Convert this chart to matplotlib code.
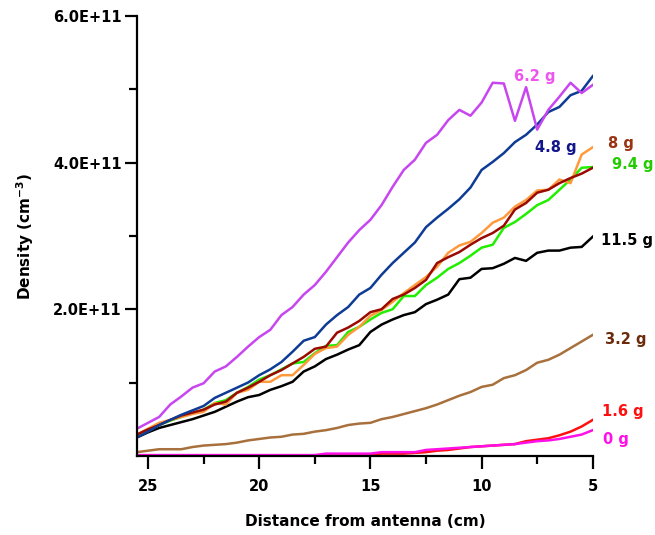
import numpy as np
import matplotlib.pyplot as plt
from matplotlib import ticker

# distancia desde la antena (cm)
distance = [25.5, 25, 24.5, 24, 23.5, 23, 22.5, 22, 21.5, 21, 20.5, 20, 19.5, 19,
            18.5, 18, 17.5, 17, 16.5, 16, 15.5, 15, 14.5, 14, 13.5, 13, 12.5, 12,
            11.5, 11, 10.5, 10, 9.5, 9, 8.5, 8, 7.5, 7, 6.5, 6, 5.5, 5]

# densidad en unidades de 1e11 cm^-3
d_6_2 = [0.37, 0.45, 0.53, 0.70, 0.81, 0.93, 0.99, 1.15, 1.22, 1.35, 1.49, 1.62, 1.72, 1.92,
         2.03, 2.20, 2.33, 2.51, 2.71, 2.91, 3.08, 3.22, 3.42, 3.67, 3.90, 4.04, 4.27, 4.38,
         4.58, 4.72, 4.64, 4.82, 5.09, 5.08, 4.57, 5.03, 4.45, 4.72, 4.90, 5.09, 4.95, 5.06]
d_4_8 = [0.25, 0.33, 0.42, 0.49, 0.56, 0.62, 0.68, 0.79, 0.86, 0.93, 1.00, 1.10, 1.18, 1.28,
         1.42, 1.57, 1.62, 1.79, 1.92, 2.03, 2.20, 2.29, 2.47, 2.63, 2.77, 2.91, 3.12, 3.25,
         3.37, 3.50, 3.66, 3.90, 4.01, 4.13, 4.28, 4.38, 4.52, 4.69, 4.76, 4.92, 4.98, 5.18]
d_orange = [0.29, 0.37, 0.45, 0.49, 0.53, 0.57, 0.60, 0.72, 0.70, 0.86, 0.90, 1.01, 1.01, 1.10,
            1.10, 1.24, 1.39, 1.47, 1.49, 1.65, 1.76, 1.91, 1.99, 2.10, 2.22, 2.33, 2.44, 2.58,
            2.77, 2.87, 2.92, 3.04, 3.18, 3.25, 3.40, 3.49, 3.62, 3.63, 3.77, 3.72, 4.11, 4.21]
d_8 = [0.29, 0.36, 0.42, 0.49, 0.55, 0.59, 0.63, 0.70, 0.74, 0.86, 0.93, 1.01, 1.10, 1.17,
       1.26, 1.35, 1.46, 1.49, 1.68, 1.75, 1.84, 1.96, 2.00, 2.14, 2.20, 2.29, 2.40, 2.63,
       2.71, 2.78, 2.88, 2.97, 3.04, 3.14, 3.36, 3.45, 3.59, 3.63, 3.72, 3.79, 3.85, 3.93]
d_9_4 = [0.26, 0.34, 0.42, 0.48, 0.53, 0.58, 0.63, 0.72, 0.76, 0.86, 0.94, 1.04, 1.10, 1.18,
         1.26, 1.28, 1.40, 1.50, 1.51, 1.69, 1.76, 1.86, 1.95, 2.00, 2.18, 2.18, 2.33, 2.43,
         2.55, 2.63, 2.73, 2.84, 2.88, 3.11, 3.19, 3.30, 3.42, 3.49, 3.63, 3.77, 3.93, 3.94]
d_11_5 = [0.25, 0.32, 0.38, 0.42, 0.46, 0.50, 0.55, 0.60, 0.67, 0.74, 0.80, 0.83, 0.90, 0.95,
          1.01, 1.15, 1.22, 1.32, 1.38, 1.45, 1.51, 1.69, 1.79, 1.86, 1.92, 1.96, 2.07, 2.13,
          2.20, 2.41, 2.43, 2.55, 2.56, 2.62, 2.70, 2.66, 2.77, 2.80, 2.80, 2.84, 2.85, 2.99]
d_3_2 = [0.05, 0.07, 0.09, 0.09, 0.09, 0.12, 0.14, 0.15, 0.16, 0.18, 0.21, 0.23, 0.25, 0.26,
         0.29, 0.30, 0.33, 0.35, 0.38, 0.42, 0.44, 0.45, 0.50, 0.53, 0.57, 0.61, 0.65, 0.70,
         0.76, 0.82, 0.87, 0.94, 0.97, 1.06, 1.10, 1.17, 1.27, 1.31, 1.38, 1.47, 1.56, 1.65]
d_1_6 = [0.005, 0.005, 0.005, 0.005, 0.005, 0.005, 0.005, 0.005, 0.005, 0.005, 0.005, 0.005,
         0.005, 0.005, 0.005, 0.005, 0.005, 0.005, 0.005, 0.005, 0.005, 0.005, 0.03, 0.03,
         0.03, 0.04, 0.05, 0.07, 0.08, 0.10, 0.12, 0.13, 0.14, 0.15, 0.16, 0.20, 0.22, 0.24,
         0.28, 0.33, 0.40, 0.49]
d_0 = [0.01, 0.01, 0.01, 0.01, 0.01, 0.01, 0.01, 0.01, 0.01, 0.01, 0.01, 0.01, 0.01, 0.01,
       0.01, 0.01, 0.01, 0.03, 0.03, 0.03, 0.03, 0.03, 0.05, 0.05, 0.05, 0.05, 0.08, 0.09,
       0.10, 0.11, 0.12, 0.13, 0.14, 0.15, 0.16, 0.18, 0.20, 0.21, 0.23, 0.26, 0.29, 0.35]

# (serie, color de linea)
series = [
    (d_1_6, '#ff1010'),
    (d_0, '#ff10e8'),
    (d_3_2, '#a8703c'),
    (d_11_5, '#000000'),
    (d_9_4, '#22ee00'),
    (d_orange, '#ff9a3c'),
    (d_8, '#9a0a00'),
    (d_4_8, '#0e3c94'),
    (d_6_2, '#c846f0'),
]

# etiquetas (texto, x, y en 1e11, color)
etiquetas = [
    ('6.2 g', 8.55, 5.12, '#ee55ee'),
    ('4.8 g', 7.6, 4.14, '#12168c'),
    ('8 g', 4.33, 4.20, '#993311'),
    ('9.4 g', 4.12, 3.92, '#22cc00'),
    ('11.5 g', 4.64, 2.87, '#000000'),
    ('3.2 g', 4.46, 1.52, '#6b2a0a'),
    ('1.6 g', 4.58, 0.54, '#ff1010'),
    ('0 g', 4.52, 0.16, '#ff10e8'),
]

fig = plt.figure(figsize=(6.55, 5.35), dpi=100)
ax = fig.add_axes([0.209, 0.148, 0.696, 0.822])

for valores, color in series:
    ax.plot(distance, np.array(valores) * 1e11, color=color, lw=1.8)

for texto, x, y, color in etiquetas:
    ax.text(x, y * 1e11, texto, color=color, fontsize=10.5, fontweight='bold',
            clip_on=False)

ax.set_xlim(25.5, 5)
ax.set_ylim(0, 6e11)
ax.spines['top'].set_visible(False)
ax.spines['right'].set_visible(False)
for s in ['left', 'bottom']:
    ax.spines[s].set_linewidth(1.6)

ax.set_xticks([25, 20, 15, 10, 5])
ax.set_xticks([22.5, 17.5, 12.5, 7.5], minor=True)
ax.set_yticks([2e11, 4e11, 6e11])
ax.set_yticks([1e11, 3e11, 5e11], minor=True)
ax.yaxis.set_major_formatter(ticker.FuncFormatter(lambda v, p: '%.1E' % v))
ax.tick_params(which='major', length=9, width=1.6, labelsize=10.5, pad=2)
ax.tick_params(which='minor', length=6, width=1.6)
ax.tick_params(axis='x', pad=8)
for lab in ax.get_xticklabels() + ax.get_yticklabels():
    lab.set_fontweight('bold')

ax.set_xlabel('Distance from antenna (cm)', fontsize=11, fontweight='bold', labelpad=14)
ax.set_ylabel('Density (cm$^{\\mathbf{-3}}$)', fontsize=11, fontweight='bold', labelpad=12)

plt.savefig('out.png')
